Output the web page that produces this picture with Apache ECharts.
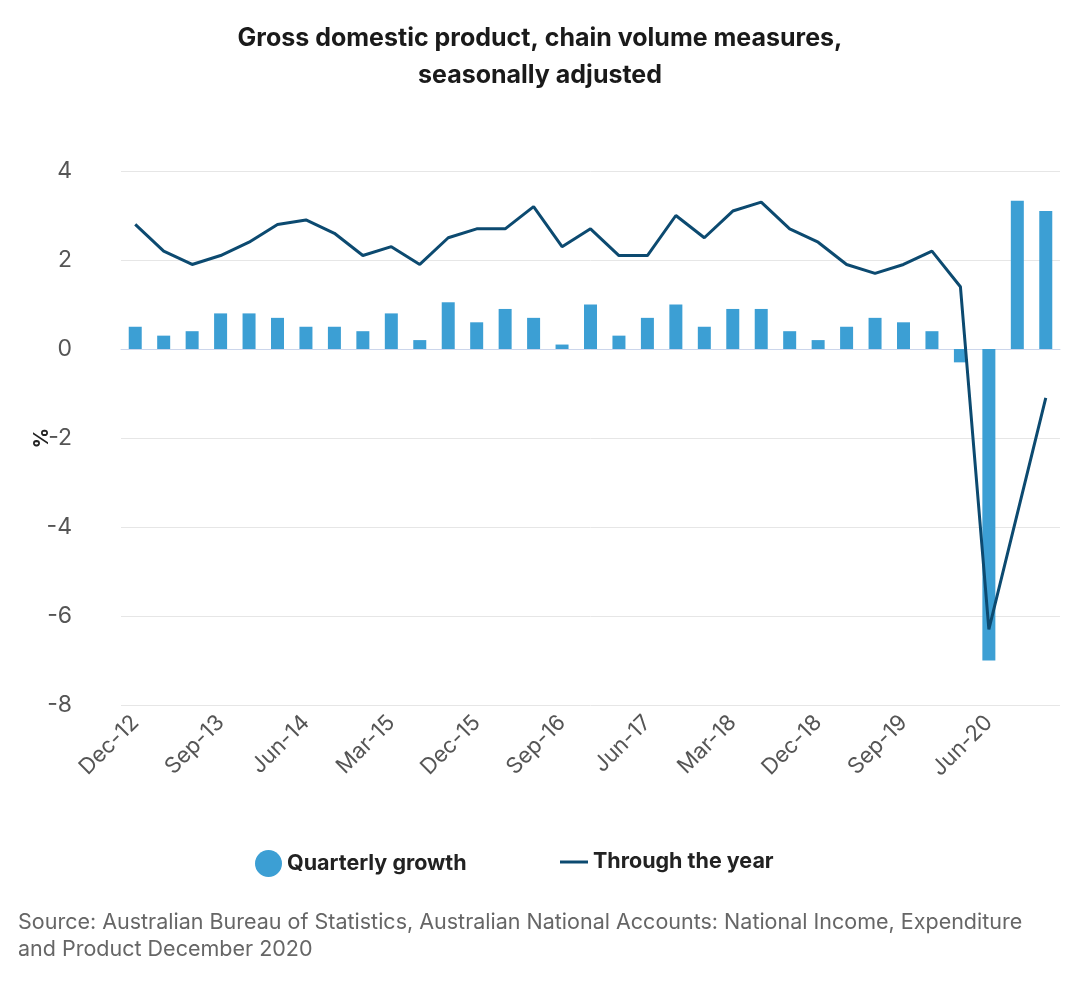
<!DOCTYPE html>
<html>
<head>
<meta charset="utf-8">
<script src="https://cdn.jsdelivr.net/npm/echarts@6/dist/echarts.min.js"></script>
<style>
html,body{margin:0;padding:0;background:#fff;}
#chart{width:1080px;height:990px;}
</style>
</head>
<body>
<div id="chart"></div>
<script>
const categories = ['Dec-12','Mar-13','Jun-13','Sep-13','Dec-13','Mar-14','Jun-14','Sep-14','Dec-14','Mar-15','Jun-15','Sep-15','Dec-15','Mar-16','Jun-16','Sep-16','Dec-16','Mar-17','Jun-17','Sep-17','Dec-17','Mar-18','Jun-18','Sep-18','Dec-18','Mar-19','Jun-19','Sep-19','Dec-19','Mar-20','Jun-20','Sep-20','Dec-20'];
const quarterlyGrowth = [0.5,0.3,0.4,0.8,0.8,0.7,0.5,0.5,0.4,0.8,0.2,1.05,0.6,0.9,0.7,0.1,1.0,0.3,0.7,1.0,0.5,0.9,0.9,0.4,0.2,0.5,0.7,0.6,0.4,-0.3,-7.0,3.33,3.1];
const throughTheYear = [2.8,2.2,1.9,2.1,2.4,2.8,2.9,2.6,2.1,2.3,1.9,2.5,2.7,2.7,3.2,2.3,2.7,2.1,2.1,3.0,2.5,3.1,3.3,2.7,2.4,1.9,1.7,1.9,2.2,1.4,-6.3,-3.7,-1.1];
const titleText = 'Gross domestic product, chain volume measures,\nseasonally adjusted';
const sourceText = 'Source: Australian Bureau of Statistics, Australian National Accounts: National Income, Expenditure\nand Product December 2020';

const FONT = 'Inter, "Noto Sans", sans-serif';
const chart = echarts.init(document.getElementById('chart'), null, {renderer: 'canvas'});
chart.setOption({
  backgroundColor: '#ffffff',
  animation: false,
  title: {
    text: titleText,
    left: 'center',
    top: 15,
    textStyle: {fontFamily: FONT, fontSize: 25, fontWeight: 'bold', color: '#1a1a1a', lineHeight: 37}
  },
  grid: {left: 121, right: 20, top: 171, bottom: 285},
  legend: [
    {
      data: [{name: 'Quarterly growth', icon: 'circle'}],
      left: 250, top: 845,
      itemWidth: 27, itemHeight: 27, itemGap: 10,
      textStyle: {fontFamily: FONT, fontSize: 21.5, fontWeight: 'bold', color: '#222'}
    },
    {
      data: [{name: 'Through the year', icon: 'rect'}],
      left: 555, top: 846,
      itemWidth: 28, itemHeight: 3, itemGap: 11,
      textStyle: {fontFamily: FONT, fontSize: 21.5, fontWeight: 'bold', color: '#222'}
    }
  ],
  xAxis: {
    type: 'category',
    data: categories,
    axisLine: {lineStyle: {color: '#ccd6eb', width: 1}},
    axisTick: {show: false},
    axisLabel: {interval: 2, rotate: 45, margin: 14, fontFamily: FONT, fontSize: 22, color: '#555'},
    splitLine: {show: false}
  },
  yAxis: {
    type: 'value',
    min: -8, max: 4, interval: 2,
    name: '%',
    nameLocation: 'middle',
    nameRotate: 90,
    nameGap: 69,
    nameMoveOverlap: false,
    nameTextStyle: {fontFamily: FONT, fontSize: 20, fontWeight: 'bold', color: '#222'},
    axisLine: {show: false},
    axisTick: {show: false},
    axisLabel: {fontFamily: FONT, fontSize: 23, color: '#555', margin: 49},
    splitLine: {lineStyle: {color: '#e6e6e6', width: 1}}
  },
  series: [
    {
      name: 'Quarterly growth',
      type: 'bar',
      data: quarterlyGrowth,
      barWidth: 13,
      itemStyle: {color: '#3c9fd4'},
      z: 2
    },
    {
      name: 'Through the year',
      type: 'line',
      data: throughTheYear,
      symbol: 'none',
      lineStyle: {color: '#0c4a70', width: 3},
      itemStyle: {color: '#0c4a70'},
      z: 3
    }
  ],
  graphic: [
    {
      type: 'text',
      left: 18,
      top: 909,
      style: {text: sourceText, font: '21.5px ' + FONT, fill: '#666', lineHeight: 27}
    }
  ]
});
</script>
</body>
</html>
